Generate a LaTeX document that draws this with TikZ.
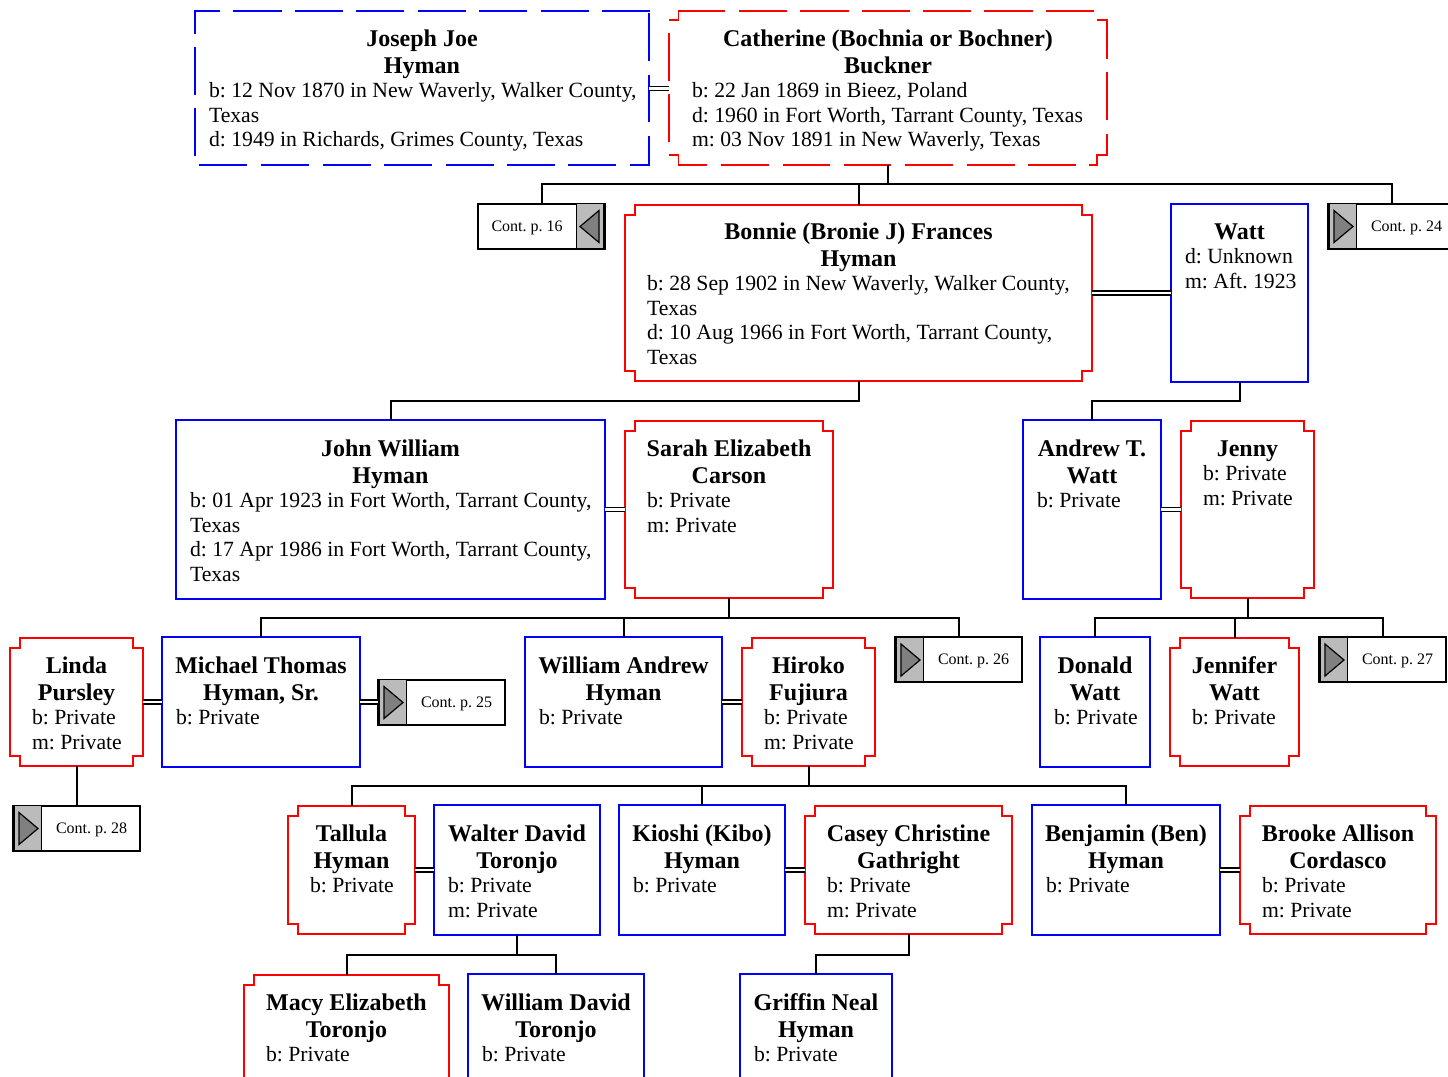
\documentclass[tikz,border=0pt]{standalone}
\usepackage{fontspec}
\setmainfont{Liberation Serif}
\usetikzlibrary{calc}
\definecolor{pblue}{RGB}{0,0,255}
\definecolor{pred}{RGB}{255,0,0}
\definecolor{contgrey}{RGB}{187,187,187}
\definecolor{trigrey}{RGB}{128,128,128}
\tikzset{
  personbox/.style={anchor=north west,inner xsep=0pt,inner ysep=0pt,outer sep=0pt,line width=2pt},
  bluebox/.style={personbox,draw=pblue},
  redbox/.style={personbox},
  contbox/.style={anchor=north west,inner sep=0pt,outer sep=0pt,draw=black,line width=2pt},
  conn/.style={draw=black,line width=2pt},
  marriage/.style={draw=black,line width=1.8pt,double=white,double distance=2.2pt},
  thinmarriage/.style={draw=black,line width=1pt,double=white,double distance=3pt},
  notchline/.style={draw=pred,line width=2pt},
  dashblue/.style={fill=pblue},
  dashred/.style={fill=pred},
  tri/.style={draw=black,fill=trigrey,line width=1.2pt,line join=miter},
  greypart/.style={fill=contgrey,draw=black,line width=1.5pt},
}
\newlength{\pw}\newlength{\ph}
\newcommand{\firstbase}{35}
% name, style, x1, y1, x2, y2, inset, bold lines, detail lines
\newcommand{\person}[9]{%
  \setlength{\pw}{\dimexpr #5pt-#3pt-2\dimexpr #7pt\relax\relax}%
  \setlength{\ph}{\dimexpr #6pt-#4pt\relax}%
  \node[#2,minimum width=#5pt-#3pt,inner xsep=#7pt] (#1) at (#3,#4)
   {\parbox[c][\ph][t]{\pw}{\let\\\break\frenchspacing\fontsize{24}{27}\selectfont\bfseries
     \leftskip=-20pt plus 1fil\rightskip=-20pt plus 1fil\parfillskip=0pt\parindent=0pt
     \rule{0pt}{\firstbase pt}#8\par
     \fontsize{21.7}{24.5}\selectfont\mdseries\leftskip=0pt\rightskip=-30pt plus 1fil #9\par}};}
\newcommand{\notched}[1]{%
  \draw[notchline] ($(#1.north west)+(10,0)$) -- ($(#1.north east)+(-10,0)$)
   -- ++(0,10) -- ++(10,0) -- ($(#1.south east)+(0,-10)$) -- ++(-10,0) -- ++(0,10)
   -- ($(#1.south west)+(10,0)$) -- ++(0,-10) -- ++(-10,0) -- ($(#1.north west)+(0,10)$)
   -- ++(10,0) -- cycle;}
% dash segments of an outline, relative to a node's north west corner
\newcommand{\dashes}[4]{%
  \foreach \xa/\ya/\xb/\yb in {#3}
    {\fill[#2] ($(#1.north west)+(\xa-#4,\ya-#4)$) rectangle ($(#1.north west)+(\xb+#4,\yb+#4)$);}}
% Continuation box, triangle pointing right
\newcommand{\contright}[4]{%
  \node[contbox] (#1) at (#2,#3)
   {\parbox[c][45pt][t]{127pt}{\frenchspacing\fontsize{16}{18}\selectfont\rule{0pt}{27.5pt}\hspace{43pt}#4}};
  \draw[greypart] ($(#1.north west)+(1.5,0)$) rectangle ($(#1.south west)+(28.5,0)$);
  \draw[tri] ($(#1.north west)+(6,7)$) -- ($(#1.north west)+(25,23)$) -- ($(#1.north west)+(6,39)$) -- cycle;}
% Continuation box, triangle pointing left
\newcommand{\contleft}[4]{%
  \node[contbox] (#1) at (#2,#3)
   {\parbox[c][45pt][t]{127pt}{\frenchspacing\fontsize{16}{18}\selectfont\rule{0pt}{27.5pt}\hspace{13.5pt}#4}};
  \draw[greypart] ($(#1.north east)+(-1.5,0)$) rectangle ($(#1.south east)+(-28.5,0)$);
  \draw[tri] ($(#1.north east)+(-6,7)$) -- ($(#1.north east)+(-25,23)$) -- ($(#1.north east)+(-6,39)$) -- cycle;}
\begin{document}
\begin{tikzpicture}[x=1pt,y=-1pt]
\useasboundingbox (0,0) rectangle (1448,1076);
\clip (0,0) rectangle (1448,1076);
% Top couple
\person{joseph}{personbox}{195}{11}{649}{165}{14}{Joseph Joe\\Hyman}{b: 12 Nov 1870 in New Waverly, Walker County,\\Texas\\d: 1949 in Richards, Grimes County, Texas}
\person{cath}{personbox}{669}{11}{1107}{165}{23}{Catherine (Bochnia or Bochner)\\Buckner}{b: 22 Jan 1869 in Bieez, Poland\\d: 1960 in Fort Worth, Tarrant County, Texas\\m: 03 Nov 1891 in New Waverly, Texas}
\dashes{joseph}{dashblue}{0/0/24/0,39/0/86/0,100.7/0/147.3/0,162/0/208.7/0,223.3/0/270/0,285/0/331.7/0,346.3/0/393/0,407.7/0/454/0,
  0/0/0/22,0/37/0/83,0/98/0/144,
  5/154/51.7/154,66.7/154/113.3/154,128.3/154/175/154,190/154/236.7/154,251.3/154/298/154,312.7/154/359.3/154,374/154/420.7/154,435.7/154/454/154,
  454/3/454/49.7,454/64.7/454/110.7,454/125.7/454/154}{0.75}
\dashes{cath}{dashred}{9.3/0/55.3/0,70.3/0/117/0,132/0/179/0,193.3/0/240/0,255/0/301/0,316/0/363/0,377.7/0/424.3/0,
  429/9/438/9,438/9/438/47,438/62/438/108,438/124/438/144,428/144/438/144,428/144/428/154,421/154/428/154,
  359.3/154/406/154,298.3/154/345/154,237/154/283.3/154,175.3/154/221.7/154,114.3/154/160.3/154,52.7/154/99.3/154,
  9.3/154/37.7/154,9.3/144/9.3/154,0.5/144/9.3/144,
  0/84/0/130.7,0/22.3/0/69,0.5/9/9.3/9,9.3/0/9.3/9}{0.75}
% Generation 2
\contleft{cs}{478}{203.5}{Cont. p. 16}
\renewcommand{\firstbase}{34}
\person{bonnie}{redbox}{625}{205}{1092}{381}{22}{Bonnie (Bronie J) Frances\\Hyman}{b: 28 Sep 1902 in New Waverly, Walker County,\\Texas\\d: 10 Aug 1966 in Fort Worth, Tarrant County,\\Texas}\notched{bonnie}
\renewcommand{\firstbase}{35}
\person{watt}{bluebox}{1171}{204}{1308}{382}{14}{Watt}{d: Unknown\\m: Aft. 1923}
\contright{ctf}{1328}{203.5}{Cont. p. 24}
% Generation 3
\renewcommand{\firstbase}{36}
\person{john}{bluebox}{176}{420}{605}{599}{14}{John William\\Hyman}{b: 01 Apr 1923 in Fort Worth, Tarrant County,\\Texas\\d: 17 Apr 1986 in Fort Worth, Tarrant County,\\Texas}
\person{andrew}{bluebox}{1023}{420}{1161}{599}{14}{Andrew T.\\Watt}{b: Private}
\renewcommand{\firstbase}{35}
\person{sarah}{redbox}{625}{421}{833}{598}{22}{Sarah Elizabeth\\Carson}{b: Private\\m: Private}\notched{sarah}
\person{jenny}{redbox}{1181}{421}{1314}{598}{22}{Jenny}{b: Private\\m: Private}\notched{jenny}
% Generation 4
\person{linda}{redbox}{10}{638}{143}{766}{22}{Linda\\Pursley}{b: Private\\m: Private}\notched{linda}
\person{hiroko}{redbox}{742}{638}{875}{766}{22}{Hiroko\\Fujiura}{b: Private\\m: Private}\notched{hiroko}
\person{jennifer}{redbox}{1170}{638}{1299}{766}{22}{Jennifer\\Watt}{b: Private}\notched{jennifer}
\renewcommand{\firstbase}{36}
\person{michael}{bluebox}{162}{637}{360}{767}{14}{Michael Thomas\\Hyman, Sr.}{b: Private}
\person{william}{bluebox}{525}{637}{722}{767}{14}{William Andrew\\Hyman}{b: Private}
\person{donald}{bluebox}{1040}{637}{1150}{767}{14}{Donald\\Watt}{b: Private}
\contright{ctfive}{378}{679.5}{Cont. p. 25}
\contright{csix}{895}{637}{Cont. p. 26}
\contright{cseven}{1319}{637}{Cont. p. 27}
\contright{ceight}{13}{805.5}{Cont. p. 28}
% Generation 5
\person{walter}{bluebox}{434}{805}{600}{935}{14}{Walter David\\Toronjo}{b: Private\\m: Private}
\person{kioshi}{bluebox}{619}{805}{785}{935}{14}{Kioshi (Kibo)\\Hyman}{b: Private}
\person{benjamin}{bluebox}{1032}{805}{1220}{935}{14}{Benjamin (Ben)\\Hyman}{b: Private}
\renewcommand{\firstbase}{35}
\person{tallula}{redbox}{288}{806}{415}{934}{22}{Tallula\\Hyman}{b: Private}\notched{tallula}
\person{casey}{redbox}{805}{806}{1012}{934}{22}{Casey Christine\\Gathright}{b: Private\\m: Private}\notched{casey}
\person{brooke}{redbox}{1240}{806}{1436}{934}{22}{Brooke Allison\\Cordasco}{b: Private\\m: Private}\notched{brooke}
% Generation 6 (cut by the page edge)
\person{macy}{redbox}{244}{975}{449}{1103}{22}{Macy Elizabeth\\Toronjo}{b: Private}\notched{macy}
\renewcommand{\firstbase}{36}
\person{williamd}{bluebox}{468}{974}{644}{1104}{14}{William David\\Toronjo}{b: Private}
\person{griffin}{bluebox}{740}{974}{892}{1104}{14}{Griffin Neal\\Hyman}{b: Private}
% Marriages
\draw[thinmarriage] (joseph.east) -- (cath.west);
\draw[marriage] (bonnie.east) -- (watt.west);
\draw[marriage] (john.east) -- (sarah.west);
\draw[marriage] (andrew.east) -- (jenny.west);
\draw[marriage] (linda.east) -- (michael.west);
\draw[marriage] (michael.east) -- (ctfive.west);
\draw[marriage] (william.east) -- (hiroko.west);
\draw[marriage] (tallula.east) -- (walter.west);
\draw[marriage] (kioshi.east) -- (casey.west);
\draw[marriage] (benjamin.east) -- (brooke.west);
% Descent
\coordinate (busa) at (0,184);
\draw[conn] (cath.south) -- (cath.south |- busa);
\draw[conn] (cs.north) -- (cs.north |- busa) -- (ctf.north |- busa) -- (ctf.north);
\draw[conn] (bonnie.north) -- (bonnie.north |- busa);
\coordinate (busb) at (0,401);
\draw[conn] (bonnie.south) -- (bonnie.south |- busb) -- (john.north |- busb) -- (john.north);
\draw[conn] (watt.south) -- (watt.south |- busb) -- (andrew.north |- busb) -- (andrew.north);
\coordinate (busc) at (0,618);
\draw[conn] (sarah.south) -- (sarah.south |- busc);
\draw[conn] (michael.north) -- (michael.north |- busc) -- (csix.north |- busc) -- (csix.north);
\draw[conn] (william.north) -- (william.north |- busc);
\draw[conn] (jenny.south) -- (jenny.south |- busc);
\draw[conn] (donald.north) -- (donald.north |- busc) -- (cseven.north |- busc) -- (cseven.north);
\draw[conn] (jennifer.north) -- (jennifer.north |- busc);
\draw[conn] (linda.south) -- (ceight.north);
\coordinate (busd) at (0,786);
\draw[conn] (hiroko.south) -- (hiroko.south |- busd);
\draw[conn] (tallula.north) -- (tallula.north |- busd) -- (benjamin.north |- busd) -- (benjamin.north);
\draw[conn] (kioshi.north) -- (kioshi.north |- busd);
\coordinate (buse) at (0,955);
\draw[conn] (walter.south) -- (walter.south |- buse);
\draw[conn] (macy.north) -- (macy.north |- buse) -- (williamd.north |- buse) -- (williamd.north);
\draw[conn] (casey.south) -- (casey.south |- buse) -- (griffin.north |- buse) -- (griffin.north);
\end{tikzpicture}
\end{document}
